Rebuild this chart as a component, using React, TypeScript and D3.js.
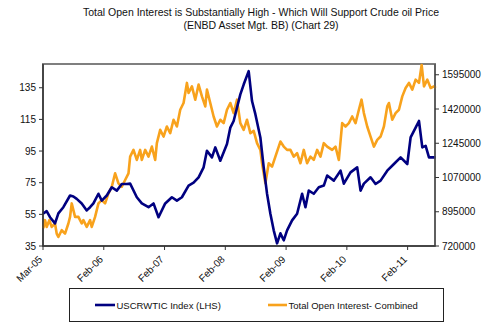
import React from "react";
import * as d3 from "d3";

const titleLines = [
  "Total Open Interest is Substantially High - Which Will Support Crude oil Price",
  "(ENBD Asset Mgt. BB) (Chart 29)",
];

const wtiDates = [
  "2005-03-01","2005-03-23","2005-04-12","2005-05-12","2005-06-01","2005-07-01","2005-08-10","2005-08-30","2005-09-19","2005-10-19",
  "2005-11-18","2005-12-08","2005-12-28","2006-01-27","2006-02-16","2006-03-18","2006-04-17","2006-05-17","2006-06-16","2006-07-16",
  "2006-08-05","2006-09-14","2006-10-14","2006-11-23","2006-12-23","2007-01-22","2007-03-03","2007-04-12","2007-05-12","2007-06-11",
  "2007-07-21","2007-08-20","2007-09-19","2007-10-19","2007-11-08","2007-12-08","2007-12-28","2008-01-27","2008-03-07","2008-03-27",
  "2008-04-16","2008-05-26","2008-06-15","2008-07-15","2008-08-04","2008-08-24","2008-09-23","2008-10-13","2008-11-02","2008-11-22",
  "2008-12-12","2009-01-01","2009-01-21","2009-02-10","2009-03-02","2009-04-01","2009-05-01","2009-05-31","2009-06-20","2009-07-10",
  "2009-08-09","2009-09-08","2009-10-08","2009-10-28","2009-12-07","2010-01-16","2010-02-05","2010-03-17","2010-04-26","2010-05-16",
  "2010-06-05","2010-07-15","2010-08-14","2010-09-13","2010-10-23","2010-12-02","2011-01-11","2011-02-20","2011-03-12","2011-04-11",
  "2011-05-01","2011-05-21","2011-06-10","2011-06-30","2011-07-30","2011-08-09",
];
const wtiValues = [
  55.4, 57, 53.2, 49.3, 55.6, 59.5, 66.9, 66.3, 64.8, 61.9,
  57.5, 59.5, 61.9, 68, 63.7, 66.9, 72.1, 70, 74.2, 74.2,
  74.4, 65.8, 61.9, 59.5, 61.9, 53.2, 61.9, 65.8, 63.7, 65.8,
  73.2, 75, 78.4, 84.7, 95.2, 91, 97.3, 88.9, 99.4, 109.8,
  114, 130.8, 137, 145.5, 126.6, 118.3, 103.6, 84.7, 68, 55.4,
  44.9, 36.7, 43, 38.6, 44.9, 51.2, 55.4, 68, 59.5, 70,
  68, 72.1, 73.2, 79.5, 76.3, 82.6, 74.4, 81.5, 84.7, 70,
  74.4, 78.4, 74.2, 76.3, 82.6, 86.8, 91, 86.8, 103.6, 109.8,
  114, 97.3, 98.3, 91, 91, 91,
];

const oiDates = [
  "2005-03-03","2005-03-13","2005-03-23","2005-04-08","2005-04-22","2005-05-12","2005-05-22","2005-06-01","2005-06-21","2005-07-11",
  "2005-07-31","2005-08-10","2005-08-20","2005-08-30","2005-09-09","2005-09-29","2005-10-19","2005-10-29","2005-11-18","2005-12-08",
  "2005-12-18","2006-01-07","2006-01-27","2006-02-16","2006-03-08","2006-03-28","2006-04-17","2006-05-07","2006-05-27","2006-06-16",
  "2006-07-06","2006-07-26","2006-08-05","2006-08-25","2006-09-14","2006-10-04","2006-10-14","2006-11-03","2006-11-23","2006-12-13",
  "2007-01-02","2007-01-12","2007-02-01","2007-02-21","2007-03-13","2007-04-02","2007-04-22","2007-05-12","2007-06-01","2007-06-21",
  "2007-07-11","2007-07-21","2007-08-10","2007-08-30","2007-09-19","2007-10-09","2007-10-29","2007-11-08","2007-11-28","2007-12-18",
  "2008-01-07","2008-01-27","2008-02-16","2008-03-07","2008-03-27","2008-04-16","2008-05-06","2008-05-26","2008-06-15","2008-07-05",
  "2008-07-25","2008-08-14","2008-09-03","2008-09-23","2008-10-03","2008-10-13","2008-10-23","2008-11-12","2008-12-02","2008-12-22",
  "2009-01-21","2009-02-10","2009-03-02","2009-03-22","2009-04-11","2009-05-01","2009-05-21","2009-06-10","2009-06-30","2009-07-20",
  "2009-08-09","2009-08-29","2009-09-18","2009-10-08","2009-10-28","2009-11-27","2009-12-17","2010-01-06","2010-01-26","2010-02-15",
  "2010-03-07","2010-03-27","2010-04-16","2010-05-06","2010-05-22","2010-06-05","2010-06-25","2010-07-15","2010-08-04","2010-08-24",
  "2010-09-13","2010-10-03","2010-10-23","2010-11-02","2010-11-22","2010-12-12","2011-01-01","2011-01-21","2011-02-10","2011-03-02",
  "2011-03-22","2011-04-11","2011-05-01","2011-05-17","2011-05-31","2011-06-20","2011-07-10","2011-07-30","2011-08-09",
];
const oiValues = [
  810800, 851900, 817500, 851900, 817500, 834900, 783600, 766200, 800600, 783600,
  834900, 868800, 937600, 903200, 868800, 868800, 834900, 851900, 817500, 851900,
  817500, 868800, 937600, 954500, 937600, 988900, 1022700, 1091500, 1040200, 1022700,
  1057100, 1091500, 1176700, 1211000, 1159700, 1211000, 1159700, 1211000, 1176700, 1228000,
  1159700, 1245400, 1313700, 1279300, 1330600, 1296700, 1365000, 1330600, 1416300, 1450700,
  1553300, 1502000, 1535800, 1467600, 1544600, 1484500, 1433200, 1518900, 1450700, 1381900,
  1330600, 1365000, 1348000, 1416300, 1450700, 1399300, 1467600, 1348000, 1313700, 1365000,
  1296700, 1308000, 1245400, 1211000, 1142800, 1091500, 1040200, 1142800, 1125300, 1176700,
  1253600, 1228000, 1211000, 1211000, 1176700, 1194100, 1142800, 1211000, 1142800, 1176700,
  1159700, 1211000, 1176700, 1245400, 1228000, 1211000, 1228000, 1159700, 1348000, 1330600,
  1348000, 1381900, 1348000, 1416300, 1467600, 1399300, 1330600, 1279300, 1228000, 1262300,
  1279300, 1330600, 1433200, 1450700, 1365000, 1399300, 1416300, 1484500, 1527600, 1553300,
  1518900, 1570200, 1553300, 1645000, 1535800, 1570200, 1527600, 1535800, 1527600,
];

const leftTicks = [35, 55, 75, 95, 115, 135];
const rightTicks = [720000, 895000, 1070000, 1245000, 1420000, 1595000];
const xTickDates = ["2005-03-01","2006-02-28","2007-02-27","2008-02-26","2009-02-24","2010-02-23","2011-02-22"];
const legendLabels = ["USCRWTIC Index (LHS)", "Total Open Interest- Combined"];

const W = 490, H = 335;
const plot = { left: 43, right: 435, top: 64, bottom: 246 };
const BLUE = "#000080";
const ORANGE = "#F8A21C";
const FONT = "'Liberation Sans', Arial, sans-serif";

const parse = d3.utcParse("%Y-%m-%d");
const fmt = d3.utcFormat("%b-%y");

export default function App() {
  const x = d3.scaleUtc()
    .domain([parse("2005-03-01")!, parse("2011-08-05")!])
    .range([plot.left, plot.right]);
  const yL = d3.scaleLinear().domain([35, 150]).range([plot.bottom, plot.top]);
  const yR = d3.scaleLinear().domain([720000, 1650000]).range([plot.bottom, plot.top]);

  const wti = wtiDates.map((d, i) => ({ d: parse(d)!, v: wtiValues[i] }));
  const oi = oiDates.map((d, i) => ({ d: parse(d)!, v: oiValues[i] }));

  const lineL = d3.line<{ d: Date; v: number }>().x(p => x(p.d)).y(p => yL(p.v));
  const lineR = d3.line<{ d: Date; v: number }>().x(p => x(p.d)).y(p => yR(p.v));

  return (
    <svg width={W} height={H} style={{ position: "absolute", left: 0, top: 0, background: "#fff" }}
      fontFamily={FONT}>
      <rect x={0} y={0} width={W} height={H} fill="#fff" />
      {titleLines.map((t, i) => (
        <text key={i} x={261} y={15.5 + i * 13} textAnchor="middle" fontSize={10.5} fill="#111">{t}</text>
      ))}
      <rect x={plot.left} y={plot.top} width={plot.right - plot.left} height={plot.bottom - plot.top}
        fill="none" stroke="#7f7f7f" strokeWidth={2} />
      <path d={lineR(oi) || ""} fill="none" stroke={ORANGE} strokeWidth={2.6} strokeLinejoin="round" />
      <path d={lineL(wti) || ""} fill="none" stroke={BLUE} strokeWidth={2.6} strokeLinejoin="round" />
      <line x1={plot.left} x2={plot.left} y1={plot.top} y2={plot.bottom} stroke="#333" strokeWidth={1.5} />
      <line x1={plot.right} x2={plot.right} y1={plot.top} y2={plot.bottom} stroke="#555" strokeWidth={1.5} />
      <line x1={plot.left} x2={plot.right} y1={plot.bottom} y2={plot.bottom} stroke="#333" strokeWidth={1.5} />
      {leftTicks.map(t => (
        <g key={"l" + t}>
          <line x1={plot.left - 4} x2={plot.left} y1={yL(t)} y2={yL(t)} stroke="#333" />
          <text x={36} y={yL(t) + 3.5} textAnchor="end" fontSize={10} fill="#111">{t}</text>
        </g>
      ))}
      {rightTicks.map(t => (
        <g key={"r" + t}>
          <line x1={plot.right} x2={plot.right + 4} y1={yR(t)} y2={yR(t)} stroke="#333" />
          <text x={442} y={yR(t) + 3.5} textAnchor="start" fontSize={10} fill="#111">{t}</text>
        </g>
      ))}
      {xTickDates.map(s => {
        const d = parse(s)!;
        const px = x(d);
        return (
          <g key={s}>
            <line x1={px} x2={px} y1={plot.bottom} y2={plot.bottom + 4} stroke="#333" />
            <text transform={`translate(${px},${plot.bottom + 14}) rotate(-45)`} textAnchor="end"
              fontSize={10} fill="#111">{fmt(d)}</text>
          </g>
        );
      })}
      <rect x={69.5} y={288.5} width={374} height={33} fill="#fff" stroke="#222" strokeWidth={1} />
      <line x1={95} x2={115} y1={305} y2={305} stroke={BLUE} strokeWidth={2.6} />
      <text x={116.5} y={308.5} fontSize={9.5} fill="#111">{legendLabels[0]}</text>
      <line x1={268} x2={287} y1={305} y2={305} stroke={ORANGE} strokeWidth={2.6} />
      <text x={288.5} y={308.5} fontSize={9.5} fill="#111">{legendLabels[1]}</text>
    </svg>
  );
}
